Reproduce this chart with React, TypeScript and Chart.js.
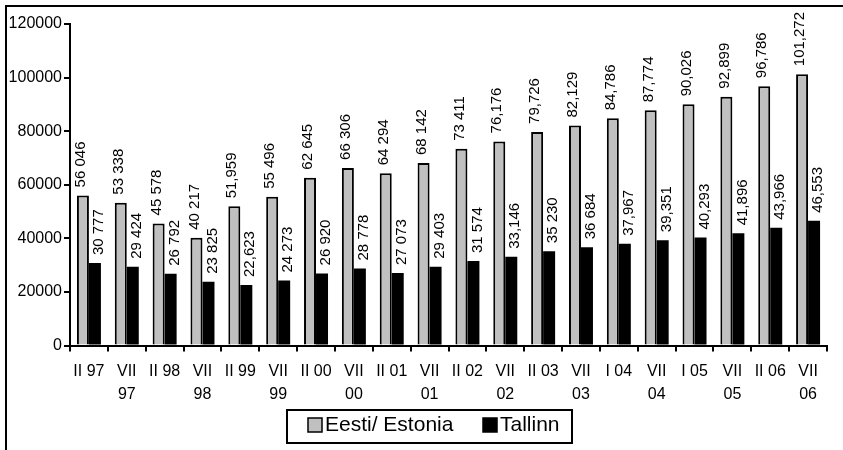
import React, { useEffect, useRef } from "react";
import { Chart, registerables } from "chart.js";

Chart.register(...registerables);

const categories: (string | string[])[] = [
  "II 97", ["VII", "97"], "II 98", ["VII", "98"], "II 99", ["VII", "99"],
  "II 00", ["VII", "00"], "II 01", ["VII", "01"], "II 02", ["VII", "02"],
  "II 03", ["VII", "03"], "I 04", ["VII", "04"], "I 05", ["VII", "05"],
  "II 06", ["VII", "06"],
];

const estonia = [
  56046, 53338, 45578, 40217, 51959, 55496, 62645, 66306, 64294, 68142,
  73411, 76176, 79726, 82129, 84786, 87774, 90026, 92899, 96786, 101272,
];
const tallinn = [
  30777, 29424, 26792, 23825, 22623, 24273, 26920, 28778, 27073, 29403,
  31574, 33146, 35230, 36684, 37967, 39351, 40293, 41896, 43966, 46553,
];
const estoniaLabels = [
  "56 046", "53 338", "45 578", "40 217", "51,959", "55 496", "62 645", "66 306", "64 294", "68 142",
  "73 411", "76,176", "79,726", "82,129", "84,786", "87,774", "90,026", "92,899", "96,786", "101,272",
];
const tallinnLabels = [
  "30 777", "29 424", "26 792", "23 825", "22,623", "24 273", "26 920", "28 778", "27 073", "29 403",
  "31 574", "33,146", "35 230", "36 684", "37,967", "39,351", "40,293", "41,896", "43,966", "46,553",
];
const seriesNames = ["Eesti/ Estonia", "Tallinn"];
const yTicks = { min: 0, max: 120000, step: 20000 };

const FONT = "'Liberation Sans', Arial, sans-serif";
const GRAY = "#c0c0c0";

const labelPlugin = {
  id: "valueLabels",
  afterDatasetsDraw(chart: any) {
    const ctx = chart.ctx;
    const lists = [estoniaLabels, tallinnLabels];
    const offsets = [-2, 4];
    ctx.save();
    ctx.font = `15px ${FONT}`;
    ctx.textBaseline = "middle";
    ctx.textAlign = "left";
    for (let d = 0; d < 2; d++) {
      const meta = chart.getDatasetMeta(d);
      meta.data.forEach((el: any, i: number) => {
        const txt = lists[d][i];
        const x = el.x + offsets[d];
        const y = el.y - 8;
        const w = ctx.measureText(txt).width;
        ctx.save();
        ctx.translate(x, y);
        ctx.rotate(-Math.PI / 2);
        if (d === 1) {
          ctx.fillStyle = "#fff";
          ctx.fillRect(-2, -8, w + 4, 16);
        }
        ctx.fillStyle = "#000";
        ctx.fillText(txt, 0, 0);
        ctx.restore();
      });
    }
    ctx.restore();
  },
};

const framePlugin = {
  id: "frameLegend",
  afterDraw(chart: any) {
    const ctx = chart.ctx;
    ctx.save();
    ctx.strokeStyle = "#000";
    ctx.lineWidth = 2;
    ctx.beginPath();
    ctx.moveTo(6, 450);
    ctx.lineTo(6, 6);
    ctx.lineTo(843, 6);
    ctx.stroke();
    // legend box
    ctx.strokeRect(287, 410, 285, 33);
    const items = [
      { x: 308, color: GRAY, text: seriesNames[0] },
      { x: 483, color: "#000", text: seriesNames[1] },
    ];
    ctx.font = `21px ${FONT}`;
    ctx.textBaseline = "middle";
    ctx.textAlign = "left";
    items.forEach((it) => {
      ctx.fillStyle = it.color;
      ctx.fillRect(it.x, 418, 14, 14);
      ctx.lineWidth = 1.5;
      ctx.strokeRect(it.x, 418, 14, 14);
      ctx.fillStyle = "#000";
      ctx.fillText(it.text, it.x + 17, 425);
    });
    ctx.restore();
  },
};

export default function App() {
  const ref = useRef<HTMLCanvasElement | null>(null);
  useEffect(() => {
    if (!ref.current) return;
    const chart = new Chart(ref.current, {
      type: "bar",
      data: {
        labels: categories,
        datasets: [
          {
            label: seriesNames[0],
            data: estonia,
            backgroundColor: GRAY,
            borderColor: "#000",
            borderWidth: 2,
            categoryPercentage: 0.634,
            barPercentage: 1,
          },
          {
            label: seriesNames[1],
            data: tallinn,
            backgroundColor: "#000",
            borderColor: "#000",
            borderWidth: 0,
            categoryPercentage: 0.634,
            barPercentage: 1,
          },
        ],
      },
      options: {
        animation: false,
        responsive: true,
        maintainAspectRatio: false,
        layout: { padding: { left: 8, right: 16, top: 24, bottom: 36 } },
        plugins: { legend: { display: false }, tooltip: { enabled: false } },
        scales: {
          x: {
            grid: { display: true, drawOnChartArea: false, color: "#000", lineWidth: 2, tickLength: 6, offset: true },
            border: { display: true, color: "#000", width: 2 },
            ticks: {
              color: "#000",
              font: { family: FONT, size: 16, lineHeight: 1.45 },
              maxRotation: 0,
              autoSkip: false,
              padding: 8,
            },
          },
          y: {
            min: yTicks.min,
            max: yTicks.max,
            grid: { display: true, drawOnChartArea: false, color: "#000", lineWidth: 2, tickLength: 6 },
            border: { display: true, color: "#000", width: 2 },
            ticks: {
              stepSize: yTicks.step,
              color: "#000",
              font: { family: FONT, size: 16 },
              padding: 2,
              callback: (v: any) => String(v),
            },
            afterFit: (s: any) => { s.width = 62; },
          },
        },
      },
      plugins: [labelPlugin, framePlugin],
    });
    return () => chart.destroy();
  }, []);
  return (
    <div style={{ position: "absolute", left: 0, top: 0, width: 843, height: 450, background: "#fff" }}>
      <canvas ref={ref} />
    </div>
  );
}
